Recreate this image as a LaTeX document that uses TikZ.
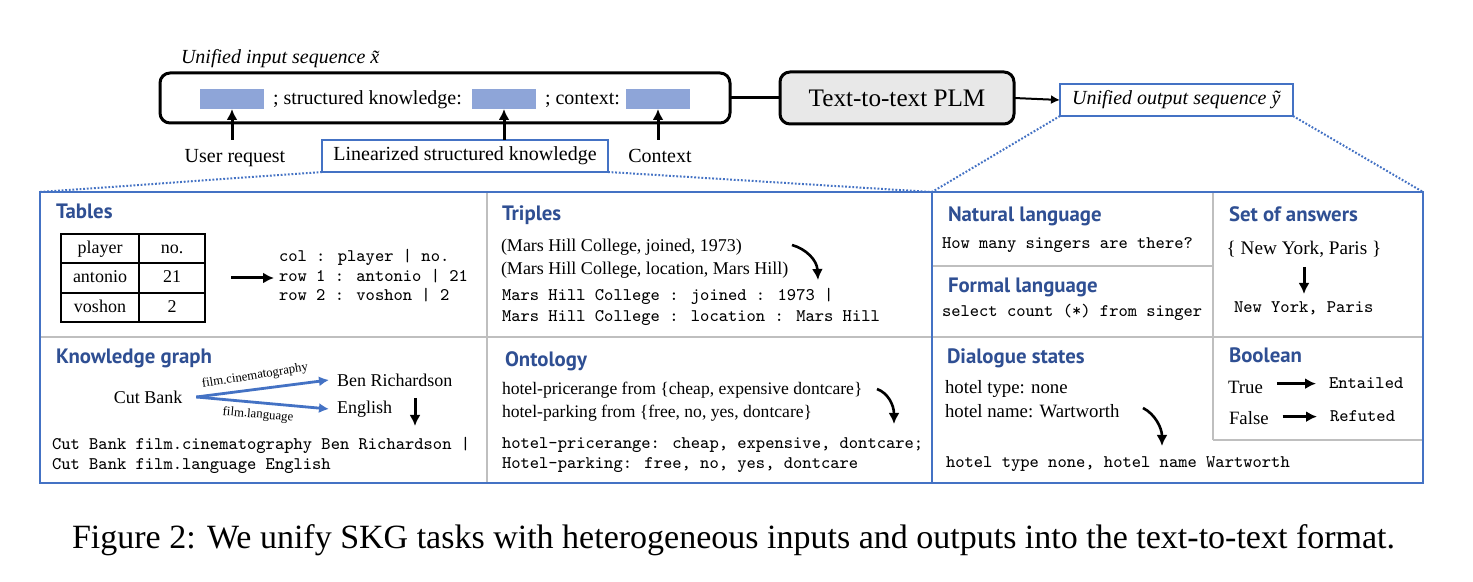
\documentclass[tikz,border=0pt]{standalone}
\usepackage{fontspec}
\setmainfont{Liberation Serif}
\newfontfamily\headfont{PT Sans}
\usetikzlibrary{arrows.meta}
\definecolor{bordblue}{HTML}{4472C4}
\definecolor{fillblue}{HTML}{8EA5D8}
\definecolor{headblue}{HTML}{2F4F93}
\definecolor{divgray}{HTML}{BFBFBF}
\definecolor{plmgray}{HTML}{E8E8E8}
\begin{document}
\begin{tikzpicture}[x=0.5pt,y=-0.5pt,
  every node/.style={inner sep=0pt,outer sep=0pt},
  toptext/.style={font=\fontsize{10}{12}\selectfont},
  ptext/.style={font=\fontsize{9}{11}\selectfont, anchor=base west},
  dtext/.style={font=\fontsize{9.4}{11}\selectfont, anchor=base west},
  mono/.style={font=\ttfamily\fontsize{8.85}{10}\selectfont, anchor=base west},
  heading/.style={font=\headfont\bfseries\fontsize{10.4}{12}\selectfont, text=headblue, anchor=base west},
  slot/.style={fill=fillblue, minimum width=32pt, minimum height=10pt},
  blkarrow/.style={line width=1.5pt, -{Latex[length=5.5pt,width=5.5pt]}},
  curvarrow/.style={line width=1.3pt, -{Latex[length=5.5pt,width=5.5pt]}},
  bluearrow/.style={bordblue, line width=1.4pt, -{Latex[length=5pt,width=5pt]}},
  dotline/.style={bordblue, line width=1pt, dash pattern=on 0.9pt off 0.9pt},
  divider/.style={divgray, line width=1.3pt},
  panel/.style={draw=bordblue, line width=1.3pt},
  kglabel/.style={font=\fontsize{6.4}{7}\selectfont},
]
\useasboundingbox (0,0) rectangle (1473,582);
\fill[white] (0,0) rectangle (1473,582);

% ---------- top row ----------
\node[toptext, anchor=base west] (intitle) at (181,64) {\textit{Unified input sequence \~x}};
\node[draw, line width=1.5pt, rounded corners=5pt, minimum width=285pt, minimum height=25pt] (inbox) at (445,98) {};
\node[slot] (s1) at (232,99) {};
\node[slot] (s2) at (504,99) {};
\node[slot] (s3) at (658,99) {};
\node[toptext, anchor=base west] (t1) at (273,105) {; structured knowledge:};
\node[toptext, anchor=base west] (t2) at (545,105) {; context:};

\node[toptext, anchor=base] (ureq) at (235,163) {User request};
\node[toptext, draw=bordblue, line width=1pt, minimum width=143pt, minimum height=16pt] (lsk) at (465,156) {Linearized structured knowledge};
\node[toptext, anchor=base] (ctx) at (660,163) {Context};

\draw[blkarrow] (s1.south |- lsk.north) -- (s1.south);
\draw[blkarrow] (s2.south |- lsk.north) -- (s2.south);
\draw[blkarrow] (s3.south |- lsk.north) -- (s3.south);

\node[draw, line width=1.5pt, rounded corners=5pt, fill=plmgray, minimum width=117pt, minimum height=26pt, font=\fontsize{12.6}{14}\selectfont] (plm) at (897,98) {Text-to-text PLM};
\draw[line width=1.5pt] (inbox.east) -- (plm.west);
\node[toptext, draw=bordblue, line width=1pt, minimum width=116.5pt, minimum height=16pt] (outbox) at (1176.5,100) {\textit{Unified output sequence \~y}};
\draw[line width=1pt, -{Latex[length=4.5pt,width=4.5pt]}] (plm.east) -- (outbox.west);

% ---------- panels ----------
\draw[divider] (487,192) -- (487,483);
\draw[divider] (40,337) -- (932,337);
\draw[divider] (1213,192) -- (1213,440);
\draw[divider] (932,266) -- (1213,266);
\draw[divider] (932,337) -- (1423,337);
\draw[divider] (1213,440) -- (1423,440);
\node[panel, minimum width=446pt, minimum height=145.5pt] (leftgrp) at (486,337.5) {};
\node[panel, minimum width=245.5pt, minimum height=145.5pt] (rightgrp) at (1177.5,337.5) {};

\draw[dotline] (lsk.south west) -- (leftgrp.north west);
\draw[dotline] (lsk.south east) -- (leftgrp.north east);
\draw[dotline] (outbox.south west) -- (rightgrp.north west);
\draw[dotline] (outbox.south east) -- (rightgrp.north east);

% Tables
\node[heading] (hTables) at (56,219) {Tables};
\node[draw, line width=0.9pt, minimum width=72pt, minimum height=44pt] (tbl) at (133,278) {};
\draw[line width=0.9pt] (139,234) -- (139,322);
\draw[line width=0.9pt] (61,263) -- (205,263);
\draw[line width=0.9pt] (61,293) -- (205,293);
\node[ptext, anchor=base] (c11) at (100,254) {player};
\node[ptext, anchor=base] (c12) at (172,254) {no.};
\node[ptext, anchor=base] (c21) at (100,283) {antonio};
\node[ptext, anchor=base] (c22) at (172,283) {21};
\node[ptext, anchor=base] (c31) at (100,313) {voshon};
\node[ptext, anchor=base] (c32) at (172,313) {2};
\coordinate (ta1) at (231,278);
\coordinate (ta2) at (274,278);
\draw[blkarrow] (ta1) -- (ta2);
\node[mono] (tl1) at (279,262) {col : player | no.};
\node[mono] (tl2) at (279,282) {row 1 : antonio | 21};
\node[mono] (tl3) at (279,301) {row 2 : voshon | 2};

% Triples
\node[heading] (hTriples) at (502,221) {Triples};
\node[ptext] (tr1t) at (501,252) {(Mars Hill College, joined, 1973)};
\node[ptext] (tr2t) at (501,275) {(Mars Hill College, location, Mars Hill)};
\coordinate (tra) at (792,245);
\coordinate (trb) at (818,280);
\draw[curvarrow] (tra) .. controls (806,249) and (817,260) .. (trb);
\node[mono] (trm1) at (502,301) {Mars Hill College : joined : 1973 |};
\node[mono] (trm2) at (502,322) {Mars Hill College : location : Mars Hill};

% Knowledge graph
\node[heading] (hKG) at (56,364) {Knowledge graph};
\node[ptext, anchor=center] (cb) at (148,397) {Cut Bank};
\node[ptext, anchor=west] (ben) at (337,380) {Ben Richardson};
\node[ptext, anchor=west] (eng) at (337,409) {English};
\draw[bluearrow] ([xshift=7pt]cb.east) -- ([xshift=-4pt]ben.west);
\draw[bluearrow] ([xshift=7pt]cb.east) -- ([xshift=-4pt]eng.west);
\node[kglabel, rotate=9] (lab1) at (255,376) {film.cinematography};
\node[kglabel, rotate=-5] (lab2) at (258,415) {film.language};
\coordinate (kga) at (415,398);
\coordinate (kgb) at (415,426);
\draw[blkarrow] (kga) -- (kgb);
\node[mono] (kgm1) at (52,450) {Cut Bank film.cinematography Ben Richardson |};
\node[mono] (kgm2) at (52,470) {Cut Bank film.language English};

% Ontology
\node[heading] (hOnt) at (505,367) {Ontology};
\node[ptext, font=\fontsize{8.8}{11}\selectfont] (on1) at (502,395) {hotel-pricerange from \{cheap, expensive dontcare\}};
\node[ptext, font=\fontsize{8.8}{11}\selectfont] (on2) at (502,418) {hotel-parking from \{free, no, yes, dontcare\}};
\coordinate (ona) at (877,389);
\coordinate (onb) at (894,424);
\draw[curvarrow] (ona) .. controls (888,393) and (894,405) .. (onb);
\node[mono] (onm1) at (502,449) {hotel-pricerange: cheap, expensive, dontcare;};
\node[mono] (onm2) at (502,469) {Hotel-parking: free, no, yes, dontcare};

% Natural language
\node[heading] (hNL) at (948,222) {Natural language};
\node[mono] (nlm) at (942,249) {How many singers are there?};

% Formal language
\node[heading] (hFL) at (948,293) {Formal language};
\node[mono] (flm) at (942,317) {select count (*) from singer};

% Set of answers
\node[heading] (hSA) at (1229,222) {Set of answers};
\node[font=\fontsize{9.6}{11}\selectfont, anchor=base] (sat) at (1304,255) {\{ New York, Paris \}};
\coordinate (saa) at (1304,267);
\coordinate (sab) at (1304,294);
\draw[blkarrow] (saa) -- (sab);
\node[mono] (sam) at (1234,313) {New York, Paris};

% Dialogue states
\node[heading] (hDS) at (947,364) {Dialogue states};
\node[dtext] (ds1) at (945,394) {hotel type: none};
\node[dtext] (ds2) at (945,418) {hotel name: Wartworth};
\coordinate (dsa) at (1143,408);
\coordinate (dsb) at (1162,446);
\draw[curvarrow] (dsa) .. controls (1155,414) and (1162,428) .. (dsb);
\node[mono] (dsm) at (946,468) {hotel type none, hotel name Wartworth};

% Boolean
\node[heading] (hBool) at (1229,363) {Boolean};
\node[dtext] (btrue) at (1228,394) {True};
\node[dtext] (bfalse) at (1229,425) {False};
\node[mono] (bent) at (1329,389) {Entailed};
\node[mono] (bref) at (1330,422) {Refuted};
\draw[blkarrow] ([xshift=7pt]btrue.east |- bent.west) -- ([xshift=-6.5pt]bent.west);
\draw[blkarrow] ([xshift=7pt]bfalse.east |- bref.west) -- ([xshift=-6.5pt]bref.west);

% Caption
\node[font=\fontsize{17}{20}\selectfont, anchor=base west] (cap) at (72,549) {Figure 2: We unify SKG tasks with heterogeneous inputs and outputs into the text-to-text format.};
\end{tikzpicture}
\end{document}
